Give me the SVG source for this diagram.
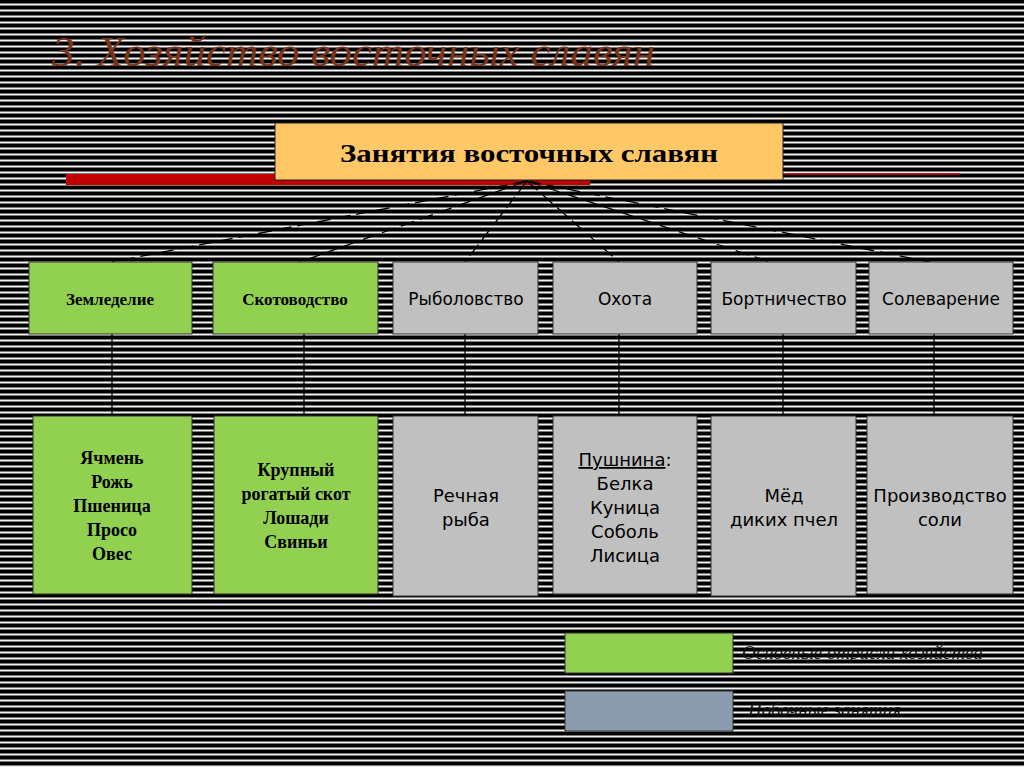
<svg xmlns="http://www.w3.org/2000/svg" width="1024" height="767" viewBox="0 0 1024 767">
<defs>
<pattern id="stripes" width="8" height="6" patternUnits="userSpaceOnUse">
<rect width="8" height="6" fill="#000"/>
<rect y="3.5" width="8" height="2" fill="#f2f2f2"/>
</pattern>
</defs>
<style>
.box{stroke:#333;stroke-width:1}
.g{fill:#92d050}.s{fill:#c0c0c0}
.serif{font-family:"Liberation Serif","DejaVu Serif",serif;font-weight:bold;fill:#000}
.sans{font-family:"DejaVu Sans","Noto Sans",sans-serif;fill:#000}
.conn line{stroke:#000;stroke-width:1.3}
.dash{stroke-dasharray:14 6}
</style>
<rect width="1024" height="767" fill="url(#stripes)"/>
<text x="52" y="66" font-family="Liberation Serif,serif" font-style="italic" font-size="42" fill="#7a3416" textLength="603" lengthAdjust="spacingAndGlyphs">3. Хозяйство восточных славян</text>
<rect x="66" y="174" width="524" height="11" fill="#c00000"/>
<line x1="785" y1="174" x2="960" y2="174" stroke="#c00000" stroke-width="1.5"/>
<g id="conn" class="conn">
<line class="dash" x1="527" y1="181" x2="112" y2="262"/>
<line class="dash" x1="527" y1="181" x2="300" y2="262"/>
<line class="dash" x1="527" y1="181" x2="465" y2="262"/>
<line class="dash" x1="527" y1="181" x2="619" y2="262"/>
<line class="dash" x1="527" y1="181" x2="770" y2="262"/>
<line class="dash" x1="527" y1="181" x2="930" y2="262"/>
<line x1="112" y1="334" x2="112" y2="416" stroke-width="0.8"/>
<line x1="304" y1="334" x2="304" y2="416" stroke-width="0.8"/>
<line x1="465" y1="334" x2="465" y2="416" stroke-width="0.8"/>
<line x1="619" y1="334" x2="619" y2="416" stroke-width="0.8"/>
<line x1="783" y1="334" x2="783" y2="416" stroke-width="0.8"/>
<line x1="934" y1="334" x2="934" y2="416" stroke-width="0.8"/>
</g>
<g id="root"><rect x="275" y="123" width="508" height="57" fill="#fec867" stroke="#222"/>
<text x="340" y="162" class="serif" font-size="26" textLength="378" lengthAdjust="spacingAndGlyphs">Занятия восточных славян</text></g>
<g id="n1"><rect class="box g" x="29" y="262" width="163" height="72"/><text x="110" y="305" text-anchor="middle" class="serif" font-size="17">Земледелие</text></g>
<g id="n2"><rect class="box g" x="213" y="262" width="165" height="72"/><text x="295" y="305" text-anchor="middle" class="serif" font-size="17">Скотоводство</text></g>
<g id="n3"><rect class="box s" x="393" y="262" width="145" height="72"/><text x="466" y="305" text-anchor="middle" class="sans" font-size="17">Рыболовство</text></g>
<g id="n4"><rect class="box s" x="553" y="262" width="144" height="72"/><text x="625" y="305" text-anchor="middle" class="sans" font-size="17">Охота</text></g>
<g id="n5"><rect class="box s" x="711" y="262" width="145" height="72"/><text x="784" y="305" text-anchor="middle" class="sans" font-size="17">Бортничество</text></g>
<g id="n6"><rect class="box s" x="869" y="262" width="144" height="72"/><text x="941" y="305" text-anchor="middle" class="sans" font-size="17">Солеварение</text></g>
<g id="d1"><rect class="box g" x="33" y="416" width="159" height="178"/>
<text text-anchor="middle" class="serif" font-size="18"><tspan x="112" y="464">Ячмень</tspan><tspan x="112" y="488">Рожь</tspan><tspan x="112" y="512">Пшеница</tspan><tspan x="112" y="536">Просо</tspan><tspan x="112" y="560">Овес</tspan></text></g>
<g id="d2"><rect class="box g" x="214" y="416" width="164" height="178"/>
<text text-anchor="middle" class="serif" font-size="18"><tspan x="296" y="476">Крупный</tspan><tspan x="296" y="500">рогатый скот</tspan><tspan x="296" y="524">Лошади</tspan><tspan x="296" y="548">Свиньи</tspan></text></g>
<g id="d3"><rect class="box s" x="393" y="416" width="145" height="180"/>
<text text-anchor="middle" class="sans" font-size="18"><tspan x="466" y="502">Речная</tspan><tspan x="466" y="526">рыба</tspan></text></g>
<g id="d4"><rect class="box s" x="553" y="416" width="144" height="178"/>
<text text-anchor="middle" class="sans" font-size="18"><tspan x="625" y="466"><tspan text-decoration="underline">Пушнина</tspan>:</tspan><tspan x="625" y="490">Белка</tspan><tspan x="625" y="514">Куница</tspan><tspan x="625" y="538">Соболь</tspan><tspan x="625" y="562">Лисица</tspan></text></g>
<g id="d5"><rect class="box s" x="711" y="416" width="145" height="180"/>
<text text-anchor="middle" class="sans" font-size="18"><tspan x="784" y="502">Мёд</tspan><tspan x="784" y="526">диких пчел</tspan></text></g>
<g id="d6"><rect class="box s" x="867" y="416" width="146" height="178"/>
<text text-anchor="middle" class="sans" font-size="18"><tspan x="940" y="502">Производство</tspan><tspan x="940" y="526">соли</tspan></text></g>
<g id="legend1"><rect class="box g" x="565" y="633" width="168" height="40"/>
<text x="742" y="659" font-family="Liberation Serif,serif" font-style="italic" font-size="19" fill="#111">Основные отрасли хозяйства</text></g>
<g id="legend2"><rect x="565" y="691" width="168" height="40" fill="#8d9baf" stroke="#333"/>
<text x="748" y="716" font-family="Liberation Serif,serif" font-style="italic" font-size="19" fill="#111">Побочные занятия</text></g>
</svg>
